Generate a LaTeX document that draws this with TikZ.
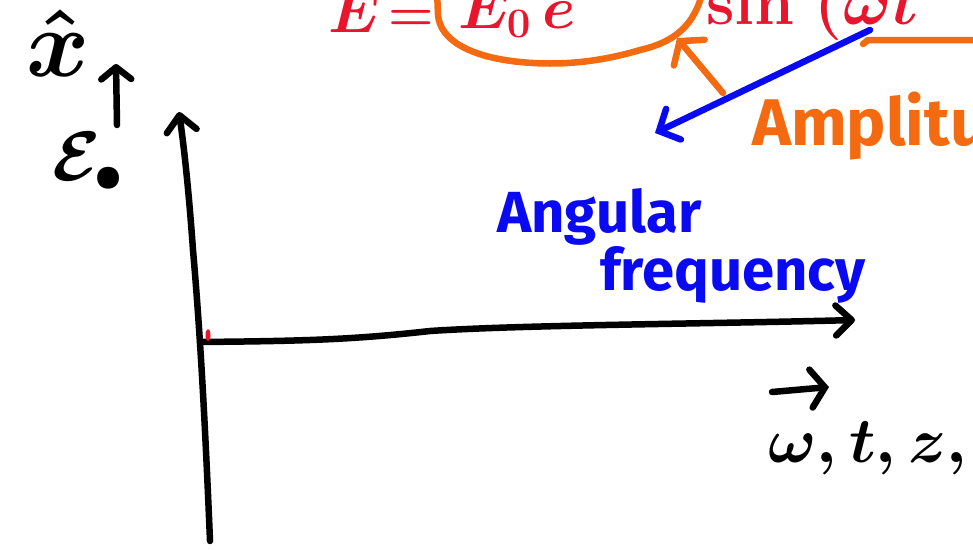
\RequirePackage{fix-cm}
\documentclass[tikz,border=0pt]{standalone}
\usepackage{amsmath,amssymb}
\usepackage{fontspec}
\newfontfamily\handfont{Fira Sans}
\usepackage{tikz}
\usetikzlibrary{arrows.meta,positioning}
\definecolor{InkRed}{HTML}{E8162C}
\definecolor{InkOrange}{HTML}{F46A10}
\definecolor{InkBlue}{HTML}{0A0AF2}

\begin{document}
\begin{tikzpicture}[
x=1pt,y=-1pt,
ink/.style={line width=6.5pt,line cap=round,line join=round},
tip/.style={-{Straight Barb[length=#1,width=30pt,line cap=round,line join=round]}},
tip/.default=16pt,
lbl/.style={inner sep=0pt,anchor=base west},
bigmath/.style={lbl,font=\fontsize{#1}{#1}\selectfont\boldmath},
note/.style={lbl,font=\handfont\bfseries\fontsize{#1}{#1}\selectfont}
]
\useasboundingbox[fill=white] (0,0) rectangle (973,549);

% axes
\coordinate (ybase) at (210,541);
\coordinate (ytip) at (179,112);
\coordinate (xstart) at (200,342);
\coordinate (xtip) at (855,320);
\draw[ink,tip] (ybase) .. controls (205,420) and (200,330) .. (193,250) .. controls (188,180) and (183,140) .. (ytip);
\draw[ink,tip] (xstart) .. controls (300,341) and (350,340) .. (430,331) .. controls (520,325) and (700,324) .. (xtip);
\fill[InkRed] (208,335) ellipse (2.5 and 6);

% axis labels
\node[bigmath=96] (xhat) at (26,76) {$\hat{x}$};
\node[bigmath=70] (efield) at (52,180) {$\mathcal{E}_{\bullet}$};
\coordinate (upfoot) at (117,125);
\coordinate (uphead) at (116,64);
\draw[ink,tip=12pt] (upfoot) -- (uphead);
\node[bigmath=64] (vars) at (768,462) {$\omega,t,z,$};
\coordinate (vecfoot) at (772,392);
\coordinate (vechead) at (829,387);
\draw[ink,-{Straight Barb[length=14pt,width=38pt,line cap=round]}] (vecfoot) -- (vechead);

% the wave equation
\node[bigmath=60,text=InkRed] (esym) at (328,32) {$E$};
\node[bigmath=52,text=InkRed] (eqsign) at (388,30) {$=$};
\node[bigmath=60,text=InkRed] (eamp) at (458,28) {$E_{0}\,e$};
\node[bigmath=64,text=InkRed] (esin) at (706,24) {$\mathbf{sin}\;(\omega t$};
\draw[ink,InkOrange] (703,-10) .. controls (695,25) and (675,42) .. (640,50) .. controls (600,62) and (560,66) .. (520,62) .. controls (470,57) and (440,40) .. (438,15) -- (437,-10);
\draw[ink,InkOrange] (863,44) -- (868,40) -- (980,40);

% notes
\node[note=66,text=InkOrange] (amp) at (752,145) {Amplitude};
\node[note=58,text=InkBlue] (angular) at (497,232) {Angular};
\node[note=58,text=InkBlue] (freq) at (600,290) {frequency};
\coordinate (ampfoot) at (723,93);
\coordinate (amphead) at (677,38);
\draw[ink,InkOrange,-{Straight Barb[length=15pt,width=40pt,line cap=round]}] (ampfoot) -- (amphead);
\coordinate (omegafoot) at (870,30);
\coordinate (omegahead) at (655,133);
\draw[ink,InkBlue,-{Straight Barb[length=16pt,width=34pt,line cap=round]}] (omegafoot) -- (omegahead);
\end{tikzpicture}
\end{document}
